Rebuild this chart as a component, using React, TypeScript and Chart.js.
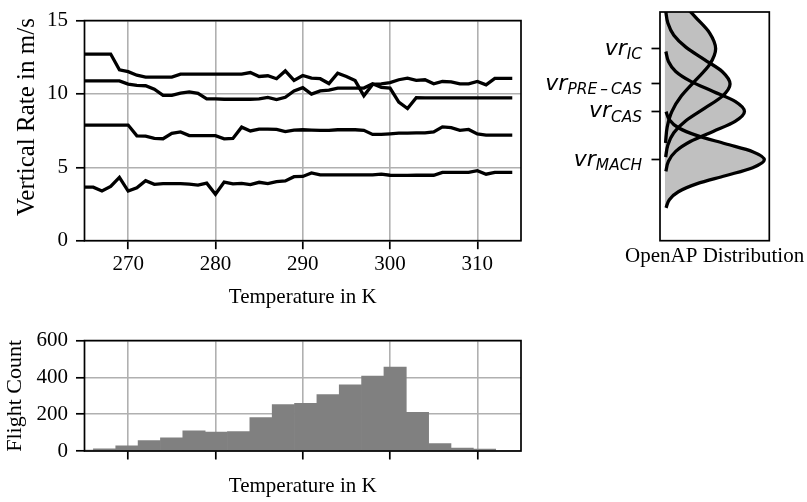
import React, { useEffect, useRef } from 'react';
import { Chart, registerables } from 'chart.js';
Chart.register(...registerables);

// ---------- top panel: vertical rate vs temperature ----------
const temps = [
  265, 266, 267, 268, 269, 270, 271, 272, 273, 274,
  275, 276, 277, 278, 279, 280, 281, 282, 283, 284,
  285, 286, 287, 288, 289, 290, 291, 292, 293, 294,
  295, 296, 297, 298, 299, 300, 301, 302, 303, 304,
  305, 306, 307, 308, 309, 310, 311, 312, 313, 314,
];
const vrFirst = [
  12.72, 12.72, 12.72, 12.72, 11.65, 11.52, 11.28, 11.15, 11.15, 11.15,
  11.15, 11.35, 11.35, 11.35, 11.35, 11.35, 11.35, 11.35, 11.35, 11.46,
  11.19, 11.24, 11.04, 11.57, 10.92, 11.26, 11.08, 11.04, 10.71, 11.41,
  11.19, 10.91, 9.88, 10.65, 10.69, 10.78, 10.97, 11.08, 10.93, 10.97,
  10.69, 10.85, 10.82, 10.69, 10.69, 10.85, 10.62, 11.06, 11.06, 11.06,
];
const vrSecond = [
  10.89, 10.89, 10.89, 10.89, 10.89, 10.67, 10.58, 10.56, 10.32, 9.9,
  9.9, 10.06, 10.14, 10.04, 9.66, 9.66, 9.64, 9.64, 9.64, 9.64,
  9.66, 9.77, 9.62, 9.77, 10.2, 10.43, 9.99, 10.21, 10.26, 10.4,
  10.4, 10.4, 10.4, 10.69, 10.45, 10.4, 9.44, 9.01, 9.75, 9.73,
  9.73, 9.73, 9.73, 9.73, 9.73, 9.73, 9.73, 9.73, 9.73, 9.73,
];
const vrThird = [
  7.88, 7.88, 7.88, 7.88, 7.88, 7.88, 7.15, 7.13, 6.98, 6.95,
  7.31, 7.41, 7.16, 7.16, 7.16, 7.16, 6.94, 6.97, 7.74, 7.48,
  7.61, 7.61, 7.59, 7.43, 7.54, 7.56, 7.54, 7.52, 7.52, 7.56,
  7.56, 7.56, 7.52, 7.24, 7.24, 7.28, 7.33, 7.33, 7.35, 7.35,
  7.41, 7.76, 7.7, 7.52, 7.58, 7.28, 7.2, 7.2, 7.2, 7.2,
];
const vrFourth = [
  3.65, 3.65, 3.39, 3.7, 4.31, 3.38, 3.6, 4.09, 3.84, 3.89,
  3.89, 3.89, 3.85, 3.79, 3.92, 3.16, 3.99, 3.87, 3.91, 3.82,
  3.98, 3.89, 4.02, 4.07, 4.36, 4.38, 4.62, 4.48, 4.48, 4.48,
  4.48, 4.48, 4.48, 4.48, 4.53, 4.46, 4.45, 4.45, 4.46, 4.46,
  4.46, 4.66, 4.66, 4.66, 4.66, 4.77, 4.53, 4.66, 4.66, 4.66,
];
const tempTicks = [270, 280, 290, 300, 310];
const vrTicks = [0, 5, 10, 15];
const vrTitle = 'Vertical Rate in m/s';

// ---------- bottom panel: histogram ----------
const binEdges = [
  263.46, 266.02, 268.58, 271.14, 273.7, 276.26, 278.82, 281.38, 283.94, 286.5,
  289.06, 291.62, 294.18, 296.74, 299.3, 301.86, 304.42, 306.98, 309.54, 312.1,
];
const flightCounts = [4, 12, 28, 56, 71, 110, 103, 105, 181, 252, 259, 306, 360, 407, 456, 210, 40, 16, 10];
const countTicks = [0, 200, 400, 600];

// ---------- right panel: OpenAP distributions ----------
const machVr = [2.16, 2.69, 3.21, 3.74, 4.26, 4.79, 5.31, 5.84, 6.36, 6.89, 7.41, 7.94, 8.46];
const machDensity = [0.011, 0.044, 0.135, 0.325, 0.607, 0.883, 1.0, 0.883, 0.607, 0.325, 0.135, 0.044, 0.011];
const casVr = [4.55, 5.21, 5.86, 6.52, 7.17, 7.83, 8.48, 9.14, 9.79, 10.45, 11.1, 11.76, 12.41];
const casDensity = [0.009, 0.035, 0.108, 0.26, 0.485, 0.706, 0.8, 0.706, 0.485, 0.26, 0.108, 0.035, 0.009];
const preCasVr = [5.48, 6.28, 7.08, 7.88, 8.68, 9.48, 10.28, 11.08, 11.88, 12.68, 13.48, 14.28, 15.08];
const preCasDensity = [0.007, 0.029, 0.089, 0.213, 0.397, 0.578, 0.655, 0.578, 0.397, 0.213, 0.089, 0.029, 0.007];
const icVr = [6.41, 7.44, 8.47, 9.5, 10.53, 11.56, 12.59, 13.62, 14.65, 15.68, 16.71, 17.74, 18.77];
const icDensity = [0.006, 0.022, 0.069, 0.166, 0.309, 0.45, 0.51, 0.45, 0.309, 0.166, 0.069, 0.022, 0.006];
const distTickValues = [12.59, 10.28, 8.48, 5.31];
const distTickSubs = ['IC', 'PRE\u2009\u2013\u2009CAS', 'CAS', 'MACH'];
const distTitle = 'OpenAP Distribution';

const SERIF = 'Liberation Serif';
const FS = 21;

const boxPlugin = {
  id: 'box',
  afterDatasetsDraw(chart: any) {
    const { ctx, chartArea: a } = chart;
    ctx.save();
    ctx.strokeStyle = '#000';
    ctx.lineWidth = 1.7;
    ctx.strokeRect(a.left, a.top, a.right - a.left, a.bottom - a.top);
    ctx.restore();
  },
};

const yTitlePlugin = {
  id: 'yTitle',
  afterDraw(chart: any) {
    const { ctx } = chart;
    ctx.save();
    ctx.translate(27, 117);
    ctx.rotate(-Math.PI / 2);
    ctx.fillStyle = '#000';
    ctx.font = `25px "${SERIF}"`;
    ctx.textAlign = 'center';
    ctx.textBaseline = 'middle';
    ctx.fillText(vrTitle, 0, 0);
    ctx.restore();
  },
};

const distLabelPlugin = {
  id: 'distLabels',
  afterDraw(chart: any) {
    const { ctx, chartArea } = chart;
    const ys = chart.scales.y;
    const right = chartArea.left - 18;
    distTickValues.forEach((v, i) => {
      const y = ys.getPixelForValue(v);
      ctx.save();
      ctx.fillStyle = '#000';
      ctx.textBaseline = 'alphabetic';
      ctx.textAlign = 'left';
      const sub = distTickSubs[i];
      ctx.font = 'italic 15.4px "DejaVu Sans"';
      const subW = ctx.measureText(sub).width;
      ctx.font = 'italic 22px "DejaVu Sans"';
      const mainW = ctx.measureText('vr').width;
      const x0 = right - subW - mainW;
      const base = y + 6;
      ctx.fillText('vr', x0, base);
      ctx.font = 'italic 15.4px "DejaVu Sans"';
      ctx.fillText(sub, x0 + mainW, base + 4.5);
      ctx.restore();
    });
    ctx.save();
    ctx.fillStyle = '#000';
    ctx.font = `${FS}px "${SERIF}"`;
    ctx.textAlign = 'center';
    ctx.textBaseline = 'middle';
    ctx.fillText(distTitle, (chartArea.left + chartArea.right) / 2, 256);
    ctx.restore();
  },
};

const font = { family: SERIF, size: FS };
const gridStyle = { color: '#b0b0b0', lineWidth: 1.6, tickColor: '#000', tickWidth: 1.7, tickLength: 8.5 };

export default function App() {
  const topRef = useRef<HTMLCanvasElement>(null);
  const histRef = useRef<HTMLCanvasElement>(null);
  const distRef = useRef<HTMLCanvasElement>(null);

  useEffect(() => {
    const lineSeries = [vrFirst, vrSecond, vrThird, vrFourth];
    const top = new Chart(topRef.current as HTMLCanvasElement, {
      type: 'line',
      data: {
        datasets: lineSeries.map((arr) => ({
          data: temps.map((t, i) => ({ x: t, y: arr[i] })),
          borderColor: '#000',
          borderWidth: 3.3,
          pointRadius: 0,
          tension: 0,
          fill: false,
        })),
      },
      options: {
        responsive: false,
        animation: false,
        layout: { padding: { top: 12, right: 19, left: 0, bottom: 0 } },
        plugins: { legend: { display: false }, tooltip: { enabled: false } },
        scales: {
          x: {
            type: 'linear', min: 265, max: 315,
            afterBuildTicks: (s: any) => { s.ticks = tempTicks.map((v) => ({ value: v })); },
            afterFit: (s: any) => { s.height = 79.3; },
            grid: gridStyle,
            border: { display: false },
            ticks: { font, color: '#000', padding: 2.7, maxRotation: 0, autoSkip: false },
            title: { display: true, text: 'Temperature in K', font, color: '#000', padding: { top: 0, bottom: 10.4 } },
          },
          y: {
            type: 'linear', min: 0, max: 15,
            afterBuildTicks: (s: any) => { s.ticks = vrTicks.map((v) => ({ value: v })); },
            afterFit: (s: any) => { s.width = 84.5; },
            grid: gridStyle,
            border: { display: false },
            ticks: { font, color: '#000', padding: 8 },
            title: { display: false },
          },
        },
      } as any,
      plugins: [boxPlugin, yTitlePlugin],
    });

    const hist = new Chart(histRef.current as HTMLCanvasElement, {
      type: 'bar',
      data: {
        datasets: [{
          data: flightCounts.map((c, i) => ({ x: (binEdges[i] + binEdges[i + 1]) / 2, y: c })),
          backgroundColor: '#808080',
          borderWidth: 0,
          barPercentage: 1,
          categoryPercentage: 1,
          grouped: false,
        }],
      },
      options: {
        responsive: false,
        animation: false,
        layout: { padding: { top: 16, right: 19, left: 0, bottom: 0 } },
        plugins: { legend: { display: false }, tooltip: { enabled: false } },
        scales: {
          x: {
            type: 'linear', min: 265, max: 315, offset: false,
            afterBuildTicks: (s: any) => { s.ticks = tempTicks.map((v) => ({ value: v })); },
            afterFit: (s: any) => { s.height = 51; },
            grid: { ...gridStyle, offset: false },
            border: { display: false },
            ticks: { font, color: '#000', callback: () => '' },
            title: { display: true, text: 'Temperature in K', font, color: '#000', padding: { top: 0, bottom: 3.4 } },
          },
          y: {
            type: 'linear', min: 0, max: 600,
            afterBuildTicks: (s: any) => { s.ticks = countTicks.map((v) => ({ value: v })); },
            afterFit: (s: any) => { s.width = 84.5; },
            grid: gridStyle,
            border: { display: false },
            ticks: { font, color: '#000', padding: 8 },
            title: { display: true, text: 'Flight Count', font: { family: SERIF, size: 22 }, color: '#000', padding: { top: 1.8, bottom: 0 } },
          },
        },
      } as any,
      plugins: [boxPlugin],
    });

    const curves = [
      { vr: machVr, d: machDensity },
      { vr: casVr, d: casDensity },
      { vr: preCasVr, d: preCasDensity },
      { vr: icVr, d: icDensity },
    ];
    const dist = new Chart(distRef.current as HTMLCanvasElement, {
      type: 'line',
      data: {
        datasets: curves.map((c) => ({
          data: c.vr.map((v, i) => ({ x: c.d[i], y: v })),
          borderColor: '#000',
          borderWidth: 3.3,
          pointRadius: 0,
          cubicInterpolationMode: 'monotone',
          fill: 'origin',
          backgroundColor: '#c0c0c0',
        })),
      },
      options: {
        indexAxis: 'y',
        responsive: false,
        animation: false,
        layout: { padding: { top: 12, right: 37.7, left: 0, bottom: 0 } },
        plugins: { legend: { display: false }, tooltip: { enabled: false }, filler: { drawTime: 'beforeDatasetsDraw' } },
        scales: {
          x: {
            type: 'linear', min: -0.05, max: 1.05,
            afterFit: (s: any) => { s.height = 79.3; },
            grid: { display: false },
            border: { display: false },
            ticks: { display: false },
            title: { display: false },
          },
          y: {
            type: 'linear', min: 0, max: 15,
            afterBuildTicks: (s: any) => { s.ticks = distTickValues.map((v) => ({ value: v })); },
            afterFit: (s: any) => { s.width = 140; },
            grid: { drawOnChartArea: false, tickColor: '#000', tickWidth: 1.7, tickLength: 8.5 },
            border: { display: false },
            ticks: { callback: () => '' },
          },
        },
      } as any,
      plugins: [boxPlugin, distLabelPlugin],
    });

    return () => { top.destroy(); hist.destroy(); dist.destroy(); };
  }, []);

  return (
    <div style={{ position: 'fixed', left: 0, top: 0, width: 807, height: 502, background: '#fff' }}>
      <canvas ref={topRef} width={540} height={320} style={{ position: 'absolute', left: 0, top: 0 }} />
      <canvas ref={histRef} width={540} height={182} style={{ position: 'absolute', left: 0, top: 320 }} />
      <canvas ref={distRef} width={287} height={320} style={{ position: 'absolute', left: 520, top: 0 }} />
    </div>
  );
}
